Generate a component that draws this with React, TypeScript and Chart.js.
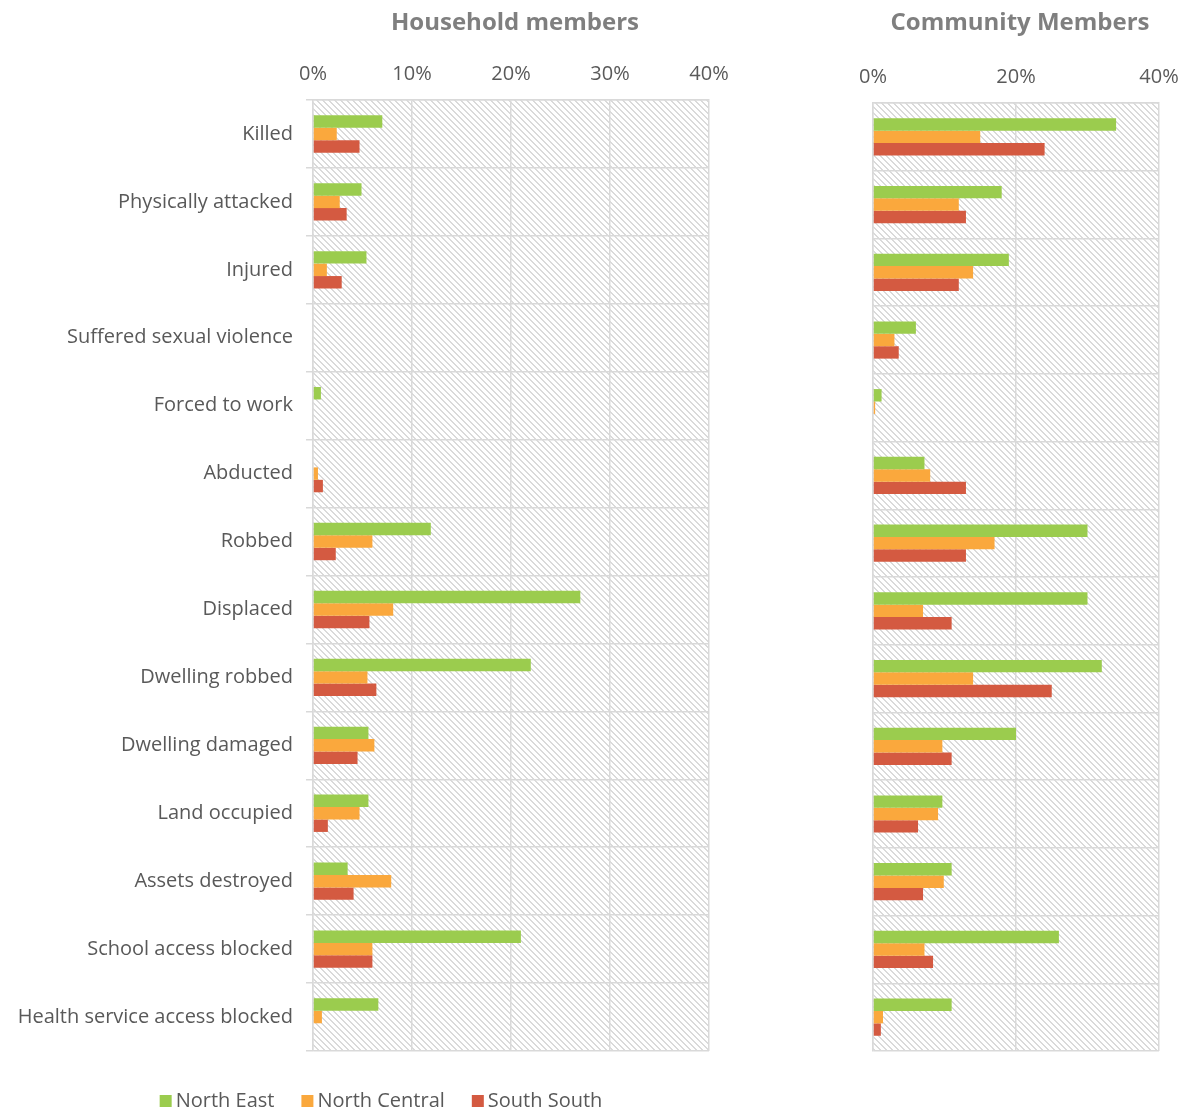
import React, { useEffect, useRef } from "react";
import { Chart, registerables } from "chart.js";
Chart.register(...registerables);

const categories = [
  "Killed",
  "Physically attacked",
  "Injured",
  "Suffered sexual violence",
  "Forced to work",
  "Abducted",
  "Robbed",
  "Displaced",
  "Dwelling robbed",
  "Dwelling damaged",
  "Land occupied",
  "Assets destroyed",
  "School access blocked",
  "Health service access blocked",
];
const seriesNames = ["North East", "North Central", "South South"];
const seriesColors = ["#9BCC4E", "#FAA83D", "#D45A41"];

const householdNorthEast = [7.0, 4.9, 5.4, 0, 0.8, 0, 11.9, 27.0, 22.0, 5.6, 5.6, 3.5, 21.0, 6.6];
const householdNorthCentral = [2.4, 2.7, 1.4, 0, 0, 0.5, 6.0, 8.1, 5.5, 6.2, 4.7, 7.9, 6.0, 0.9];
const householdSouthSouth = [4.7, 3.4, 2.9, 0, 0, 1.0, 2.3, 5.7, 6.4, 4.5, 1.5, 4.1, 6.0, 0];

const communityNorthEast = [34.0, 18.0, 19.0, 6.0, 1.2, 7.2, 30.0, 30.0, 32.0, 20.0, 9.7, 11.0, 26.0, 11.0];
const communityNorthCentral = [15.0, 12.0, 14.0, 3.0, 0.3, 8.0, 17.0, 7.0, 14.0, 9.7, 9.1, 9.9, 7.2, 1.4];
const communitySouthSouth = [24.0, 13.0, 12.0, 3.6, 0, 13.0, 13.0, 11.0, 25.0, 11.0, 6.3, 7.0, 8.4, 1.1];

const axisMax = 40;
const householdStep = 10;
const communityStep = 20;

const FONT = "'Open Sans', sans-serif";
const TEXT = "#595959";
const TITLE = "#7F7F7F";
const GRID = "#d9d9d9";

function makeHatch(ctx: CanvasRenderingContext2D): CanvasPattern | string {
  const c = document.createElement("canvas");
  c.width = 6;
  c.height = 6;
  const g = c.getContext("2d");
  if (!g) return "#ffffff";
  g.fillStyle = "#ffffff";
  g.fillRect(0, 0, 6, 6);
  g.fillStyle = "#dadada";
  for (let i = 0; i < 6; i++) {
    g.fillRect(i, i, 1, 1);
    g.fillRect((i + 1) % 6, i, 1, 1);
  }
  return ctx.createPattern(c, "repeat") || "#ffffff";
}

type PanelProps = {
  title: string;
  ne: number[];
  nc: number[];
  ss: number[];
  step: number;
  showLabels: boolean;
  showLegend: boolean;
  left: number;
  width: number;
  areaLeft: number;
  areaRight: number;
  areaTop: number;
  areaBottom: number;
  legendCenter: number;
};

function Panel(p: PanelProps) {
  const ref = useRef<HTMLCanvasElement>(null);
  useEffect(() => {
    const canvas = ref.current;
    if (!canvas) return;
    const ctx0 = canvas.getContext("2d")!;
    const hatch = makeHatch(ctx0);
    const deco = {
      id: "deco",
      beforeDraw(chart: any) {
        const { ctx, chartArea } = chart;
        ctx.save();
        ctx.fillStyle = hatch;
        ctx.fillRect(chartArea.left, chartArea.top, chartArea.right - chartArea.left, chartArea.bottom - chartArea.top);
        ctx.restore();
      },
      afterDraw(chart: any) {
        const { ctx, chartArea } = chart;
        ctx.save();
        ctx.fillStyle = TITLE;
        ctx.font = `bold 24px ${FONT}`;
        ctx.textAlign = "center";
        ctx.textBaseline = "middle";
        ctx.fillText(p.title, (chartArea.left + chartArea.right) / 2 + 4, 23);
        if (p.showLegend) {
          ctx.font = `20px ${FONT}`;
          ctx.textBaseline = "middle";
          ctx.textAlign = "left";
          const box = 12;
          const gap = 4;
          const between = 27;
          const widths = seriesNames.map((n) => ctx.measureText(n).width);
          const total = widths.reduce((a, b) => a + box + gap + b, 0) + between * (seriesNames.length - 1);
          let x = p.legendCenter - total / 2;
          const y = 1101;
          seriesNames.forEach((n, i) => {
            ctx.fillStyle = seriesColors[i];
            ctx.fillRect(x, y - 6, box, box);
            ctx.fillStyle = TEXT;
            ctx.fillText(n, x + box + gap, y);
            x += box + gap + widths[i] + between;
          });
        }
        ctx.restore();
      },
    };
    const chart = new Chart(canvas, {
      type: "bar",
      data: {
        labels: categories,
        datasets: [
          { label: seriesNames[0], data: p.ne, backgroundColor: seriesColors[0] },
          { label: seriesNames[1], data: p.nc, backgroundColor: seriesColors[1] },
          { label: seriesNames[2], data: p.ss, backgroundColor: seriesColors[2] },
        ],
      },
      options: {
        indexAxis: "y",
        animation: false,
        responsive: false,
        maintainAspectRatio: false,
        datasets: { bar: { categoryPercentage: 0.55, barPercentage: 1 } },
        layout: {
          padding: { left: 0, right: p.width - p.areaRight, top: 0, bottom: 1111 - p.areaBottom },
        },
        plugins: {
          legend: { display: false },
          title: { display: false },
          tooltip: { enabled: false },
        },
        scales: {
          x: {
            position: "top",
            min: 0,
            max: axisMax,
            ticks: {
              stepSize: p.step,
              color: TEXT,
              font: { family: FONT, size: 20 },
              padding: 14,
              callback: (v: any) => `${v}%`,
            },
            grid: { color: GRID, lineWidth: 1.5, drawTicks: false },
            border: { color: GRID, width: 1.5 },
            afterFit: (s: any) => {
              s.height = p.areaTop;
            },
          },
          y: {
            ticks: {
              display: p.showLabels,
              color: TEXT,
              font: { family: FONT, size: 20 },
              padding: 13,
            },
            grid: {
              color: GRID,
              lineWidth: 1.5,
              offset: true,
              drawTicks: p.showLabels,
              tickLength: 7,
            },
            border: { color: GRID, width: 1.5 },
            afterFit: (s: any) => {
              s.width = p.areaLeft;
            },
          },
        },
      } as any,
      plugins: [deco],
    });
    return () => chart.destroy();
  }, []);
  return (
    <canvas
      ref={ref}
      width={p.width}
      height={1111}
      style={{ position: "absolute", left: p.left, top: 0, width: p.width, height: 1111 }}
    />
  );
}

export default function App() {
  return (
    <div
      style={{
        position: "absolute",
        left: 0,
        top: 0,
        width: 1189,
        height: 1111,
        overflow: "hidden",
        background: "#ffffff",
      }}
    >
      <Panel
        title="Household members"
        ne={householdNorthEast}
        nc={householdNorthCentral}
        ss={householdSouthSouth}
        step={householdStep}
        showLabels={true}
        showLegend={true}
        left={0}
        width={760}
        areaLeft={313}
        areaRight={709}
        areaTop={100}
        areaBottom={1051}
        legendCenter={381}
      />
      <Panel
        title="Community Members"
        ne={communityNorthEast}
        nc={communityNorthCentral}
        ss={communitySouthSouth}
        step={communityStep}
        showLabels={false}
        showLegend={false}
        left={760}
        width={480}
        areaLeft={113}
        areaRight={399}
        areaTop={103}
        areaBottom={1051}
        legendCenter={0}
      />
    </div>
  );
}
